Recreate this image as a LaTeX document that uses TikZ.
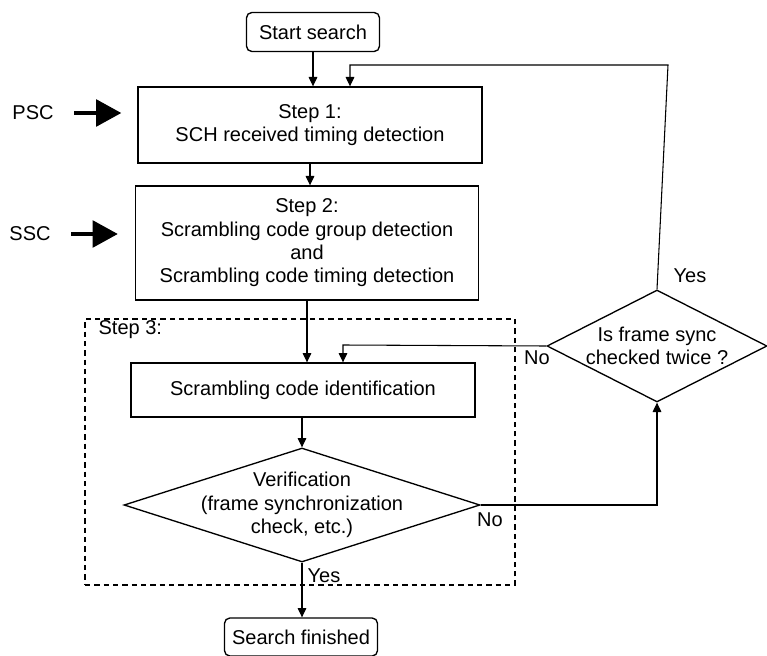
\documentclass[tikz,border=0pt]{standalone}
\usepackage{fontspec}
\setmainfont{Liberation Sans}
\usetikzlibrary{shapes.geometric,arrows.meta,calc}
\begin{document}
\begin{tikzpicture}[x=0.75pt,y=-0.75pt,
  every node/.style={font=\fontsize{15}{17.5}\selectfont, align=center},
  box/.style={draw, line width=1pt, inner sep=0pt},
  rbox/.style={draw, line width=1pt, rounded corners=4pt, inner sep=0pt},
  dia/.style={draw, diamond, line width=1pt, inner sep=0pt},
  txt/.style={inner sep=0pt},
  arr/.style={line width=0.8pt, -{Triangle[length=7pt,width=6.5pt]}},
  big/.style={line width=3pt, -{Triangle[length=19pt,width=20pt]}},
  lab/.style={inner sep=1pt}]
\useasboundingbox (0,0) rectangle (767,656);
% dashed step 3 region
\node (s3) [draw, dash pattern=on 4pt off 3pt, line width=0.8pt, minimum width={430*0.75pt}, minimum height={266*0.75pt}, inner sep=0pt] at (300,452) {};
\node (s3lab) [lab, anchor=west] at (97,330) {Step 3:};
% boxes
\node (start) [rbox, minimum width={133*0.75pt}, minimum height={39*0.75pt}] at (313,32) {Start search};
\node (step1) [box, minimum width={344*0.75pt}, minimum height={76*0.75pt}] at (310,125) {Step 1:\\SCH received timing detection};
\node (step2) [box, minimum width={343*0.75pt}, minimum height={114*0.75pt}] at (307,243) {Step 2:\\Scrambling code group detection\\and\\Scrambling code timing detection};
\node (scr) [box, minimum width={344*0.75pt}, minimum height={54*0.75pt}] at (303,390) {Scrambling code identification};
\node (ver) [dia, minimum width={356*0.75pt}, minimum height={114*0.75pt}] at (302,505) {};
\node (vertxt) [txt] at (ver.center) {Verification\\(frame synchronization\\check, etc.)};
\node (dia2) [dia, minimum width={220*0.75pt}, minimum height={112*0.75pt}] at (657,346) {};
\node (dia2txt) [txt] at (dia2.center) {Is frame sync\\checked twice ?};
\node (fin) [rbox, minimum width={153*0.75pt}, minimum height={38*0.75pt}] at (301,637) {Search finished};
% input labels
\node (psc) [lab] at (33,113) {PSC};
\node (ssc) [lab] at (30,234) {SSC};
\coordinate (pscA) at (74,113);
\coordinate (sscA) at (71,234);
\draw[big] (pscA) -- ($(pscA -| step1.west)+(-16,0)$);
\draw[big] (sscA) -- ($(sscA -| step2.west)+(-17,0)$);
% connectors
\draw[arr] (start.south) -- (start.south |- step1.north);
\coordinate (loopR) at (668,65);
\coordinate (loopL) at (350,65);
\draw[arr] (dia2.north) -- (loopR) -- (loopL) -- (loopL |- step1.north);
\draw[arr] (step1.south) -- (step1.south |- step2.north);
\draw[arr] (step2.south) -- (step2.south |- scr.north);
\coordinate (noL) at (343,345);
\draw[arr] (dia2.west) -- (noL) -- (noL |- scr.north);
\draw[arr] (scr.south -| ver.north) -- (ver.north);
\coordinate (noR) at (dia2.south |- ver.east);
\draw[arr] (ver.east) -- (noR) -- (dia2.south);
\draw[arr] (ver.south) -- (ver.south |- fin.north);
% branch labels
\node (yes2) [lab] at (690,276) {Yes};
\node (no2) [lab] at (537,358) {No};
\node (no1) [lab] at (490,520) {No};
\node (yes1) [lab] at (324,576) {Yes};
\end{tikzpicture}
\end{document}
